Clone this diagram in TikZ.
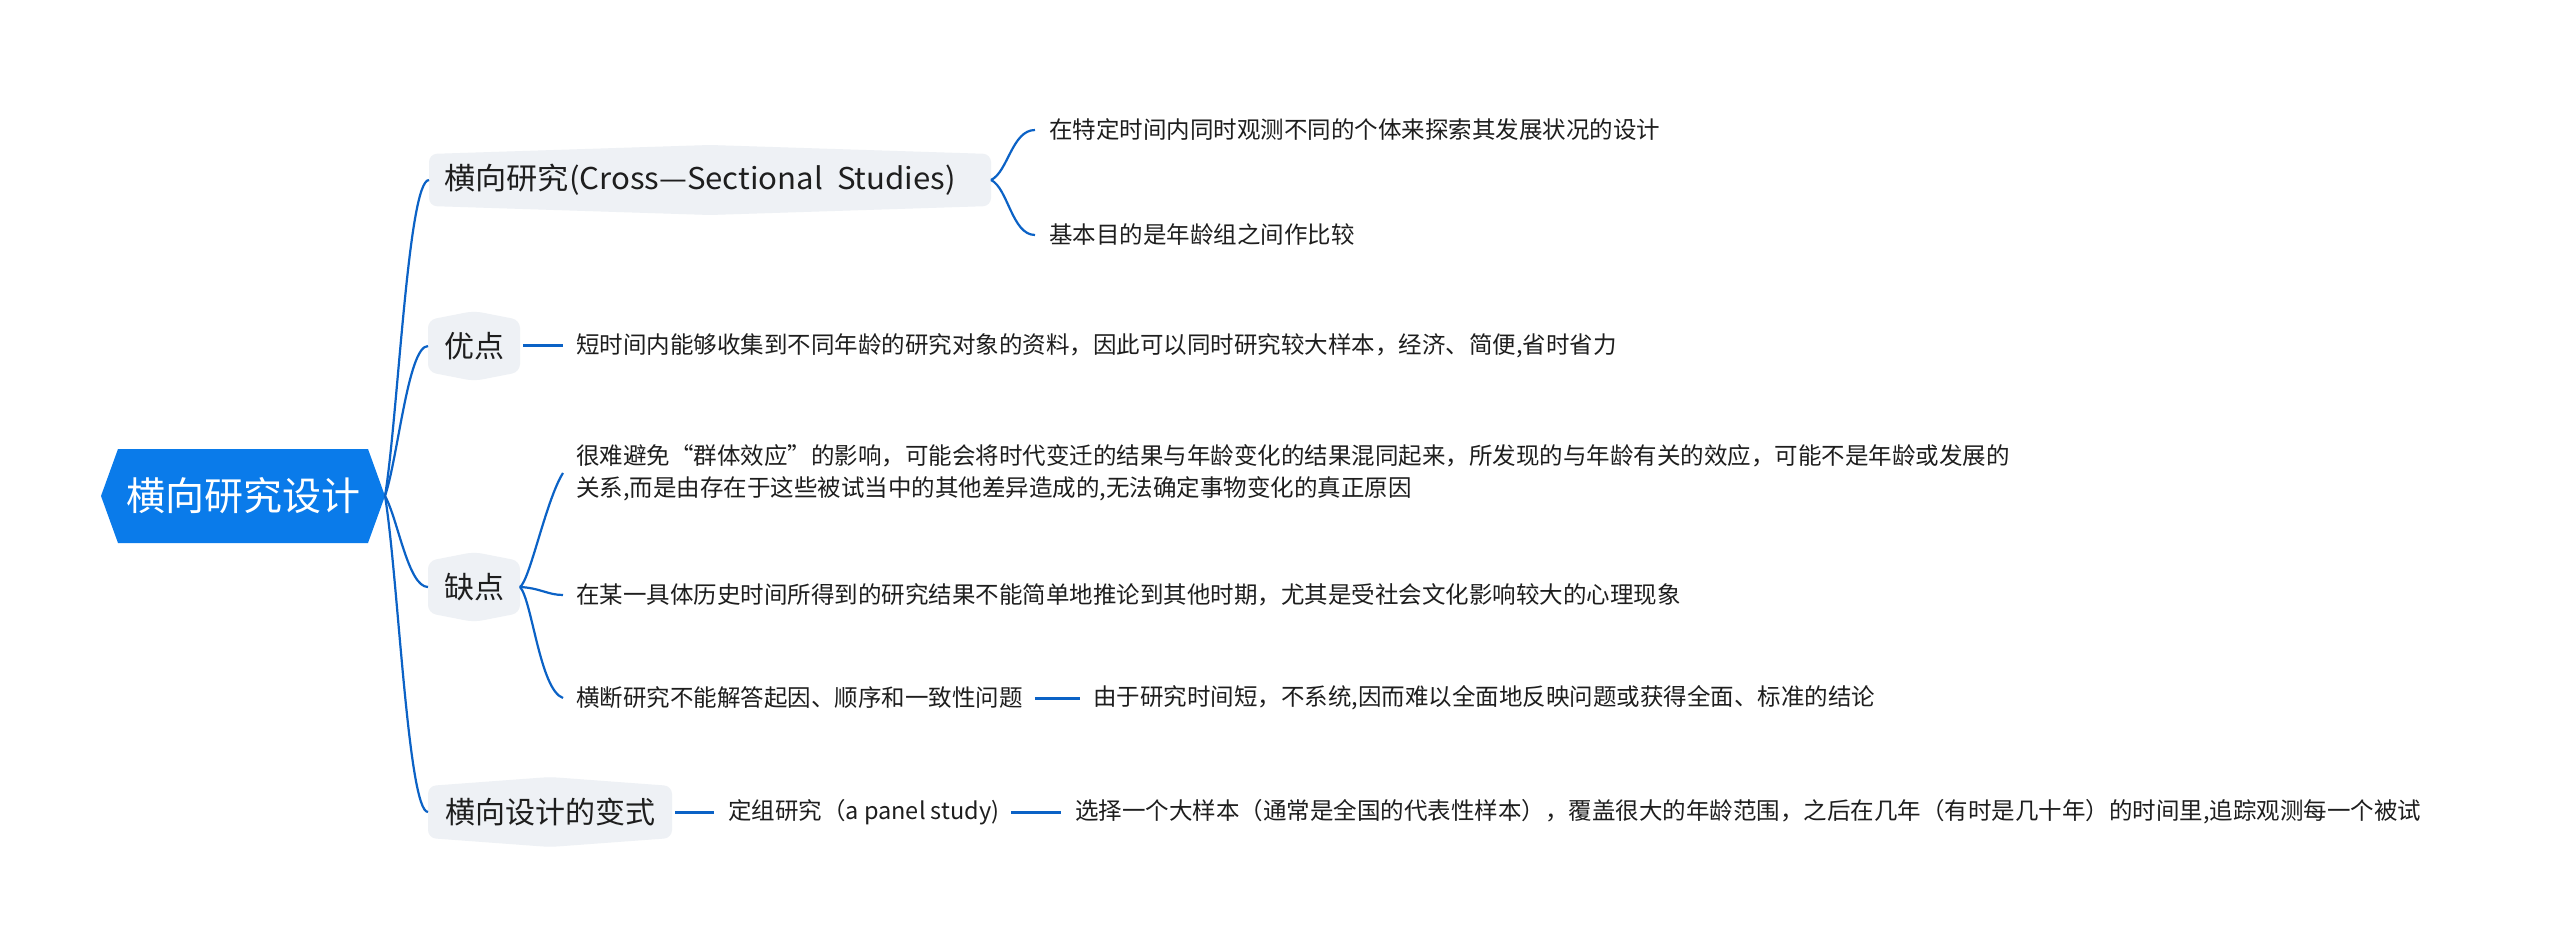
\documentclass[tikz,border=0pt]{standalone}
\usepackage{fontspec}
\setmainfont{Noto Sans CJK SC}
\definecolor{rootblue}{HTML}{0A7BEA}
\definecolor{linkblue}{HTML}{0B62C6}
\definecolor{boxgray}{HTML}{EEF1F5}
\definecolor{txt}{HTML}{1E1E1E}
\tikzset{
  roottext/.style={text=white, font=\fontsize{39}{47}\selectfont, inner sep=0pt},
  btext/.style={text=txt, font=\fontsize{30}{36}\selectfont, inner sep=0pt},
  ltext/.style={text=txt, font=\fontsize{23.5}{32}\selectfont, inner sep=0pt, anchor=west, align=left},
  bbox/.style={fill=boxgray, rounded corners=8pt},
  curve/.style={draw=linkblue, line width=2.2pt},
  straight/.style={draw=linkblue, line width=3pt},
}
\begin{document}
\begin{tikzpicture}[x=1pt,y=-1pt]
\useasboundingbox[fill=white] (0,0) rectangle (2560,949);

% root
\fill[rootblue] (101,496) -- (118,449) -- (368,449) -- (385,496) -- (368,543) -- (118,543) -- cycle;
\node[roottext] (root) at (243,496) {横向研究设计};
\coordinate (rootR) at (385,496);

% branch boxes
\fill[bbox] (429,154) -- (710,145) -- (991,154) -- (991,206) -- (710,215) -- (429,206) -- cycle;
\node[btext, anchor=west] (b1) at (444,180) {\scalebox{1.04}[1]{横向研究(Cross—Sectional\ \ Studies)}};
\coordinate (b1L) at (429,180);
\coordinate (b1R) at (991,180);

\fill[bbox] (428,320) -- (474,311) -- (520,320) -- (520,372) -- (474,381) -- (428,372) -- cycle;
\node[btext] (b2) at (474,346) {优点};
\coordinate (b2L) at (428,346);
\coordinate (b2R) at (520,346);

\fill[bbox] (428,561) -- (474,552) -- (520,561) -- (520,613) -- (474,622) -- (428,613) -- cycle;
\node[btext] (b3) at (474,587) {缺点};
\coordinate (b3L) at (428,587);
\coordinate (b3R) at (520,587);

\fill[bbox] (428,786) -- (550,777) -- (672,786) -- (672,838) -- (550,847) -- (428,838) -- cycle;
\node[btext] (b4) at (550,812) {横向设计的变式};
\coordinate (b4L) at (428,812);
\coordinate (b4R) at (672,812);

% leaves
\node[ltext] (l1a) at (1049,130) {在特定时间内同时观测不同的个体来探索其发展状况的设计};
\node[ltext] (l1b) at (1049,235) {基本目的是年龄组之间作比较};
\node[ltext] (l2) at (576,346) {短时间内能够收集到不同年龄的研究对象的资料，因此可以同时研究较大样本，经济、简便,省时省力};
\node[ltext] (l3a) at (576,473) {很难避免“群体效应”的影响，可能会将时代变迁的结果与年龄变化的结果混同起来，所发现的与年龄有关的效应，可能不是年龄或发展的\\关系,而是由存在于这些被试当中的其他差异造成的,无法确定事物变化的真正原因};
\node[ltext] (l3b) at (576,595) {在某一具体历史时间所得到的研究结果不能简单地推论到其他时期，尤其是受社会文化影响较大的心理现象};
\node[ltext] (l3c) at (576,698) {横断研究不能解答起因、顺序和一致性问题};
\node[ltext] (l3d) at (1093,698) {由于研究时间短，不系统,因而难以全面地反映问题或获得全面、标准的结论};
\node[ltext] (l4a) at (728,812) {定组研究（a panel study)};
\node[ltext] (l4b) at (1075,812) {选择一个大样本（通常是全国的代表性样本），覆盖很大的年龄范围，之后在几年（有时是几十年）的时间里,追踪观测每一个被试};

% root connectors
\draw[curve] (rootR) .. controls (398,417) and (408,180) .. (b1L);
\draw[curve] (rootR) .. controls (398,458) and (408,346) .. (b2L);
\draw[curve] (rootR) .. controls (398,519) and (408,587) .. (b3L);
\draw[curve] (rootR) .. controls (398,575) and (408,812) .. (b4L);

% branch 1 bracket
\draw[curve] (b1R) .. controls (1008,172) and (1012,130) .. ([xshift=-14pt]l1a.west);
\draw[curve] (b1R) .. controls (1008,188) and (1012,235) .. ([xshift=-14pt]l1b.west);

% branch 2
\draw[straight] ([xshift=3pt]b2R) -- ([xshift=-13pt]l2.west);

% branch 3
\draw[curve] (b3R) .. controls (530,580) and (546,500) .. ([xshift=-13pt]l3a.west);
\draw[curve] (b3R) .. controls (540,588) and (548,595) .. ([xshift=-13pt]l3b.west);
\draw[curve] (b3R) .. controls (532,600) and (540,690) .. ([xshift=-13pt]l3c.west);
\draw[straight] ([xshift=12pt]l3c.east) -- ([xshift=-13pt]l3d.west);

% branch 4
\draw[straight] ([xshift=3pt]b4R) -- ([xshift=-14pt]l4a.west);
\draw[straight] ([xshift=12pt]l4a.east) -- ([xshift=-14pt]l4b.west);
\end{tikzpicture}
\end{document}
